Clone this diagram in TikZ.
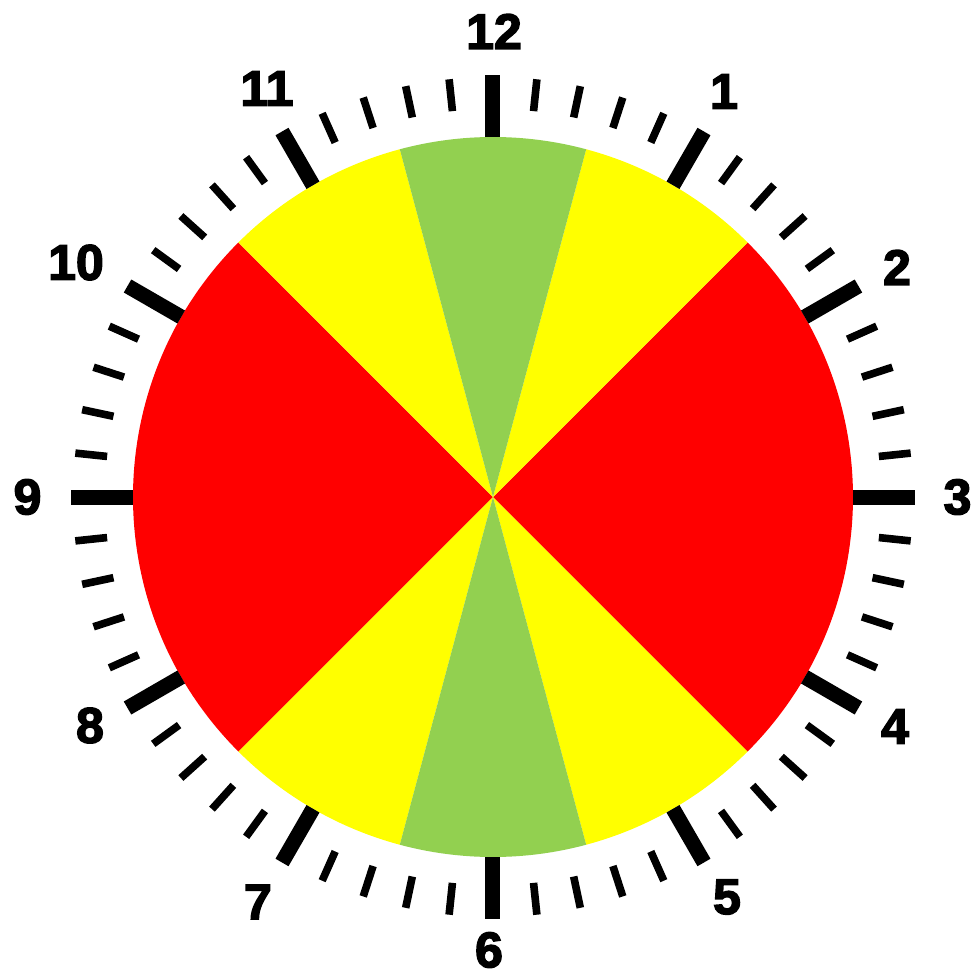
\documentclass[tikz,border=0pt]{standalone}
\usepackage{fontspec}
\setmainfont{Liberation Sans}
\newfontfamily\numfont{Liberation Sans Bold}[FakeBold=3]
\definecolor{clkred}{RGB}{255,0,0}
\definecolor{clkyellow}{RGB}{255,255,0}
\definecolor{clkgreen}{RGB}{146,208,80}
\tikzset{
  majortick/.style={line width=7.5pt, black, line cap=butt},
  minortick/.style={line width=3.8pt, black, line cap=butt},
  hournum/.style={font=\numfont\fontsize{25}{25}\selectfont, inner sep=0pt, anchor=center}
}
\begin{document}
\begin{tikzpicture}[x=0.5pt,y=0.5pt]
\useasboundingbox (-493,-479) rectangle (480,497);
\fill[white] (-493,-479) rectangle (480,497);
\coordinate (c) at (0,0);
% sectors
\fill[clkred]    (c) -- (-45:360) arc (-45:45:360) -- cycle;
\fill[clkred]    (c) -- (135:360) arc (135:225:360) -- cycle;
\fill[clkyellow] (c) -- (45:360) arc (45:75:360) -- cycle;
\fill[clkyellow] (c) -- (105:360) arc (105:135:360) -- cycle;
\fill[clkyellow] (c) -- (225:360) arc (225:255:360) -- cycle;
\fill[clkyellow] (c) -- (285:360) arc (285:315:360) -- cycle;
\fill[clkgreen]  (c) -- (75:360) arc (75:105:360) -- cycle;
\fill[clkgreen]  (c) -- (255:360) arc (255:285:360) -- cycle;
% ticks
\foreach \k in {0,...,59}{
  \pgfmathtruncatemacro\m{mod(\k,5)}
  \pgfmathsetmacro\a{90-6*\k}
  \ifnum\m=0
    \draw[majortick] (\a:360) -- (\a:422);
  \else
    \draw[minortick] (\a:388) -- (\a:420);
  \fi
}
% numbers
\node[hournum] (n1)  at (231,405.5)   {1};
\node[hournum] (n2)  at (404,229.5)   {2};
\node[hournum] (n3)  at (464.5,0)     {3};
\node[hournum] (n4)  at (402,-229.5)  {4};
\node[hournum] (n5)  at (234,-400)    {5};
\node[hournum] (n6)  at (-4,-453)     {6};
\node[hournum] (n7)  at (-235,-405)   {7};
\node[hournum] (n8)  at (-403,-228.5) {8};
\node[hournum] (n9)  at (-465.5,0)    {9};
\node[hournum] (n10) at (-417,234.5)  {10};
\node[hournum] (n11) at (-226,408.5)  {11};
\node[hournum] (n12) at (1,465.5)     {12};
\end{tikzpicture}
\end{document}
